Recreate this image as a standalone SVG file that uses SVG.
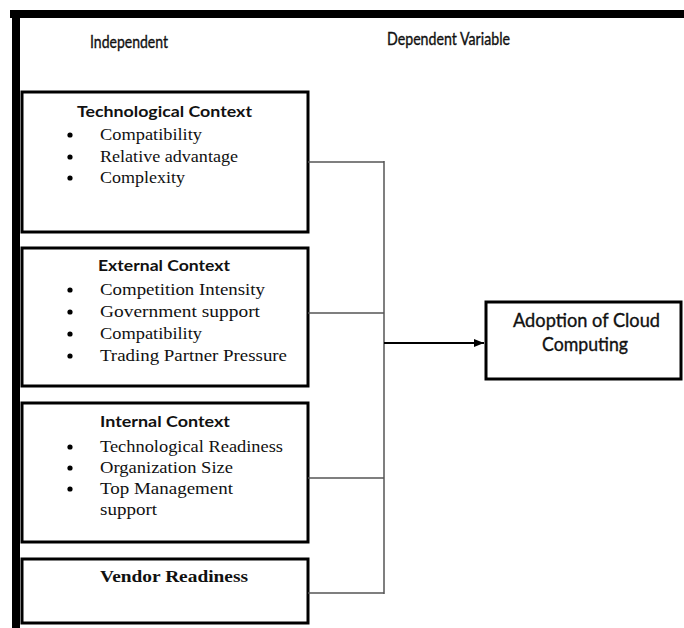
<svg xmlns="http://www.w3.org/2000/svg" width="684" height="628" viewBox="0 0 684 628">
  <style>
    .box { fill: #fff; stroke: #000; stroke-width: 3; }
    .hdr { font-family: Lato, "Open Sans", "Liberation Sans", sans-serif; font-size: 16.5px; fill: #111; stroke: #111; stroke-width: 0.35; }
    .ttl { font-family: Lato, "Open Sans", "Liberation Sans", sans-serif; font-size: 16px; font-weight: bold; fill: #111; }
    .itm { font-family: "Liberation Serif", serif; font-size: 17px; fill: #111; }
    .vtl { font-family: "Liberation Serif", serif; font-size: 17px; font-weight: bold; fill: #111; }
    .big { font-family: Lato, "Open Sans", "Liberation Sans", sans-serif; font-size: 19px; fill: #111; stroke: #111; stroke-width: 0.35; }
    .dot { fill: #000; }
    .wire { stroke: #555; stroke-width: 1.5; fill: none; }
  </style>
  <defs>
    <marker id="head" markerWidth="10" markerHeight="8" refX="10" refY="4" orient="auto" markerUnits="userSpaceOnUse">
      <path d="M0,0 L10,4 L0,8 Z" fill="#000"/>
    </marker>
  </defs>
  <rect width="684" height="628" fill="#fff"/>

  <!-- frame bars -->
  <rect x="10" y="10" width="674" height="8" fill="#000"/>
  <rect x="12" y="10" width="8" height="618" fill="#000"/>

  <!-- column headers -->
  <text class="hdr" x="90" y="48" textLength="78" lengthAdjust="spacingAndGlyphs">Independent</text>
  <text class="hdr" x="387" y="45" textLength="123" lengthAdjust="spacingAndGlyphs">Dependent Variable</text>

  <g id="technological">
    <rect class="box" x="22" y="92" width="286" height="140"/>
    <text class="ttl" x="77" y="117" textLength="175" lengthAdjust="spacingAndGlyphs">Technological Context</text>
    <circle class="dot" cx="70" cy="135" r="2.6"/>
    <circle class="dot" cx="70" cy="157" r="2.6"/>
    <circle class="dot" cx="70" cy="178" r="2.6"/>
    <text class="itm" x="100" y="140" textLength="102" lengthAdjust="spacingAndGlyphs">Compatibility</text>
    <text class="itm" x="100" y="162" textLength="138" lengthAdjust="spacingAndGlyphs">Relative advantage</text>
    <text class="itm" x="100" y="183" textLength="85" lengthAdjust="spacingAndGlyphs">Complexity</text>
  </g>

  <g id="external">
    <rect class="box" x="22" y="248" width="286" height="138"/>
    <text class="ttl" x="98" y="271" textLength="132" lengthAdjust="spacingAndGlyphs">External Context</text>
    <circle class="dot" cx="70" cy="290" r="2.6"/>
    <circle class="dot" cx="70" cy="312" r="2.6"/>
    <circle class="dot" cx="70" cy="334" r="2.6"/>
    <circle class="dot" cx="70" cy="356" r="2.6"/>
    <text class="itm" x="100" y="295" textLength="165" lengthAdjust="spacingAndGlyphs">Competition Intensity</text>
    <text class="itm" x="100" y="317" textLength="160" lengthAdjust="spacingAndGlyphs">Government support</text>
    <text class="itm" x="100" y="339" textLength="102" lengthAdjust="spacingAndGlyphs">Compatibility</text>
    <text class="itm" x="100" y="361" textLength="187" lengthAdjust="spacingAndGlyphs">Trading Partner Pressure</text>
  </g>

  <g id="internal">
    <rect class="box" x="22" y="403" width="286" height="139"/>
    <text class="ttl" x="100" y="427" textLength="130" lengthAdjust="spacingAndGlyphs">Internal Context</text>
    <circle class="dot" cx="70" cy="447" r="2.6"/>
    <circle class="dot" cx="70" cy="468" r="2.6"/>
    <circle class="dot" cx="70" cy="489" r="2.6"/>
    <text class="itm" x="100" y="452" textLength="183" lengthAdjust="spacingAndGlyphs">Technological Readiness</text>
    <text class="itm" x="100" y="473" textLength="133" lengthAdjust="spacingAndGlyphs">Organization Size</text>
    <text class="itm" x="100" y="494" textLength="133" lengthAdjust="spacingAndGlyphs">Top Management</text>
    <text class="itm" x="100" y="515" textLength="57" lengthAdjust="spacingAndGlyphs">support</text>
  </g>

  <g id="vendor">
    <rect class="box" x="22" y="559" width="286" height="64"/>
    <text class="vtl" x="100" y="582" textLength="148" lengthAdjust="spacingAndGlyphs">Vendor Readiness</text>
  </g>

  <g id="adoption">
    <rect class="box" x="486" y="302" width="195" height="77"/>
    <text class="big" x="513" y="327" textLength="147" lengthAdjust="spacingAndGlyphs">Adoption of Cloud</text>
    <text class="big" x="542" y="351" textLength="86" lengthAdjust="spacingAndGlyphs">Computing</text>
  </g>

  <g id="connectors">
    <path class="wire" d="M308,162 H384 M308,313 H384 M308,478 H384 M308,593 H384 M384,161 V594"/>
    <path d="M384,343 H484" stroke="#000" stroke-width="1.8" fill="none" marker-end="url(#head)"/>
  </g>
</svg>
